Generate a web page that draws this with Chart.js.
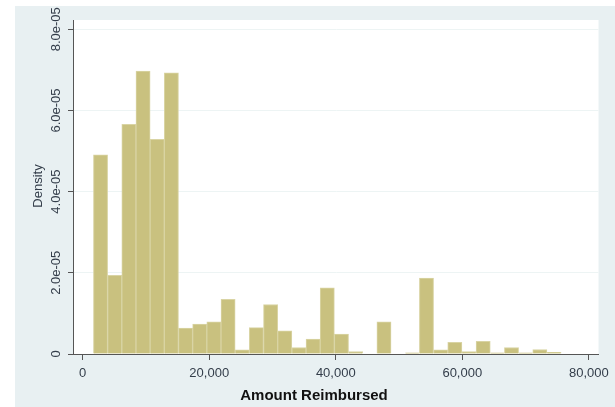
<!DOCTYPE html>
<html>
<head>
<meta charset="utf-8">
<script src="https://cdn.jsdelivr.net/npm/chart.js@4"></script>
<style>
  html, body { margin: 0; padding: 0; background: #ffffff; }
  #wrap { width: 615px; height: 407px; }
</style>
</head>
<body>
<div id="wrap"><canvas id="hist" width="615" height="407"></canvas></div>
<script>
// histogram bins (midpoints) of Amount Reimbursed, bin width ~2,240
const binMids = [2820, 5060, 7300, 9540, 11780, 14020, 16260, 18500, 20740, 22980,
  25220, 27460, 29700, 31940, 34180, 36420, 38660, 40900, 43140, 45380,
  47620, 49860, 52100, 54340, 56580, 58820, 61060, 63300, 65540, 67780,
  70020, 72260, 74500];

// density, in units of 1e-5
const densityE5 = [4.91, 1.94, 5.66, 6.97, 5.29, 6.93, 0.64, 0.74, 0.79, 1.35,
  0.10, 0.65, 1.22, 0.57, 0.16, 0.37, 1.63, 0.49, 0.06, 0,
  0.79, 0, 0.03, 1.87, 0.10, 0.29, 0.06, 0.31, 0.03, 0.16,
  0.03, 0.11, 0.04];

const xTicks = [0, 20000, 40000, 60000, 80000];
const xTickLabels = ['0', '20,000', '40,000', '60,000', '80,000'];
const yTicks = [0, 2e-5, 4e-5, 6e-5, 8e-5];
const yTickLabels = ['0', '2.0e-05', '4.0e-05', '6.0e-05', '8.0e-05'];

const xTitle = 'Amount Reimbursed';
const yTitle = 'Density';

const labelColor = '#333d4a';

// stata style background + rotated y labels
const stataBg = {
  id: 'stataBg',
  beforeDraw(chart) {
    const ctx = chart.ctx, a = chart.chartArea;
    ctx.save();
    ctx.fillStyle = '#e8f0f2';
    ctx.fillRect(15, 6, 600, 401);
    ctx.fillStyle = '#ffffff';
    ctx.fillRect(a.left, a.top, a.right - a.left, a.bottom - a.top);
    ctx.restore();
  },
  afterDraw(chart) {
    const ctx = chart.ctx, ys = chart.scales.y, a = chart.chartArea;
    ctx.save();
    ctx.fillStyle = labelColor;
    ctx.textAlign = 'center';
    ctx.textBaseline = 'middle';
    ctx.font = '13px "Liberation Sans", Arial, sans-serif';
    yTicks.forEach((v, i) => {
      ctx.save();
      ctx.translate(56, ys.getPixelForValue(v));
      ctx.rotate(-Math.PI / 2);
      ctx.fillText(yTickLabels[i], 0, 0);
      ctx.restore();
    });
    ctx.save();
    ctx.translate(38, (a.top + a.bottom) / 2 - 1);
    ctx.rotate(-Math.PI / 2);
    ctx.fillText(yTitle, 0, 0);
    ctx.restore();
    ctx.fillStyle = '#111111';
    ctx.font = 'bold 15px "Liberation Sans", Arial, sans-serif';
    ctx.fillText(xTitle, 314, 396);
    ctx.restore();
  }
};

const ctx = document.getElementById('hist').getContext('2d');
const chart = new Chart(ctx, {
  type: 'bar',
  data: {
    datasets: [{
      label: 'Density',
      data: binMids.map((m, i) => ({ x: m, y: densityE5[i] * 1e-5 })),
      backgroundColor: '#c9c17f',
      borderColor: '#d9d4a4',
      borderWidth: 1,
      barPercentage: 1,
      categoryPercentage: 1
    }]
  },
  plugins: [stataBg],
  options: {
    responsive: false,
    animation: false,
    layout: { padding: { left: 0, right: 16, top: 20, bottom: 0 } },
    plugins: { legend: { display: false }, tooltip: { enabled: false } },
    scales: {
      x: {
        type: 'linear',
        offset: false,
        min: -1532,
        max: 81532,
        afterBuildTicks: s => { s.ticks = xTicks.map(v => ({ value: v })); },
        afterFit: s => { s.height = 53; },
        ticks: {
          color: labelColor,
          padding: 6,
          font: { size: 13, family: '"Liberation Sans", Arial, sans-serif' },
          callback: (v) => xTickLabels[xTicks.indexOf(v)]
        },
        grid: { offset: false, drawOnChartArea: false, tickLength: 6, tickColor: '#555555' },
        border: { color: '#555555', width: 1 }
      },
      y: {
        min: 0,
        max: 8.229e-5,
        afterBuildTicks: s => { s.ticks = yTicks.map(v => ({ value: v })); },
        afterFit: s => { s.width = 73; },
        ticks: { display: false },
        grid: { color: '#edf4f4', lineWidth: 1, tickLength: 5, tickColor: '#555555' },
        border: { color: '#555555', width: 1 }
      }
    }
  }
});
</script>
</body>
</html>
